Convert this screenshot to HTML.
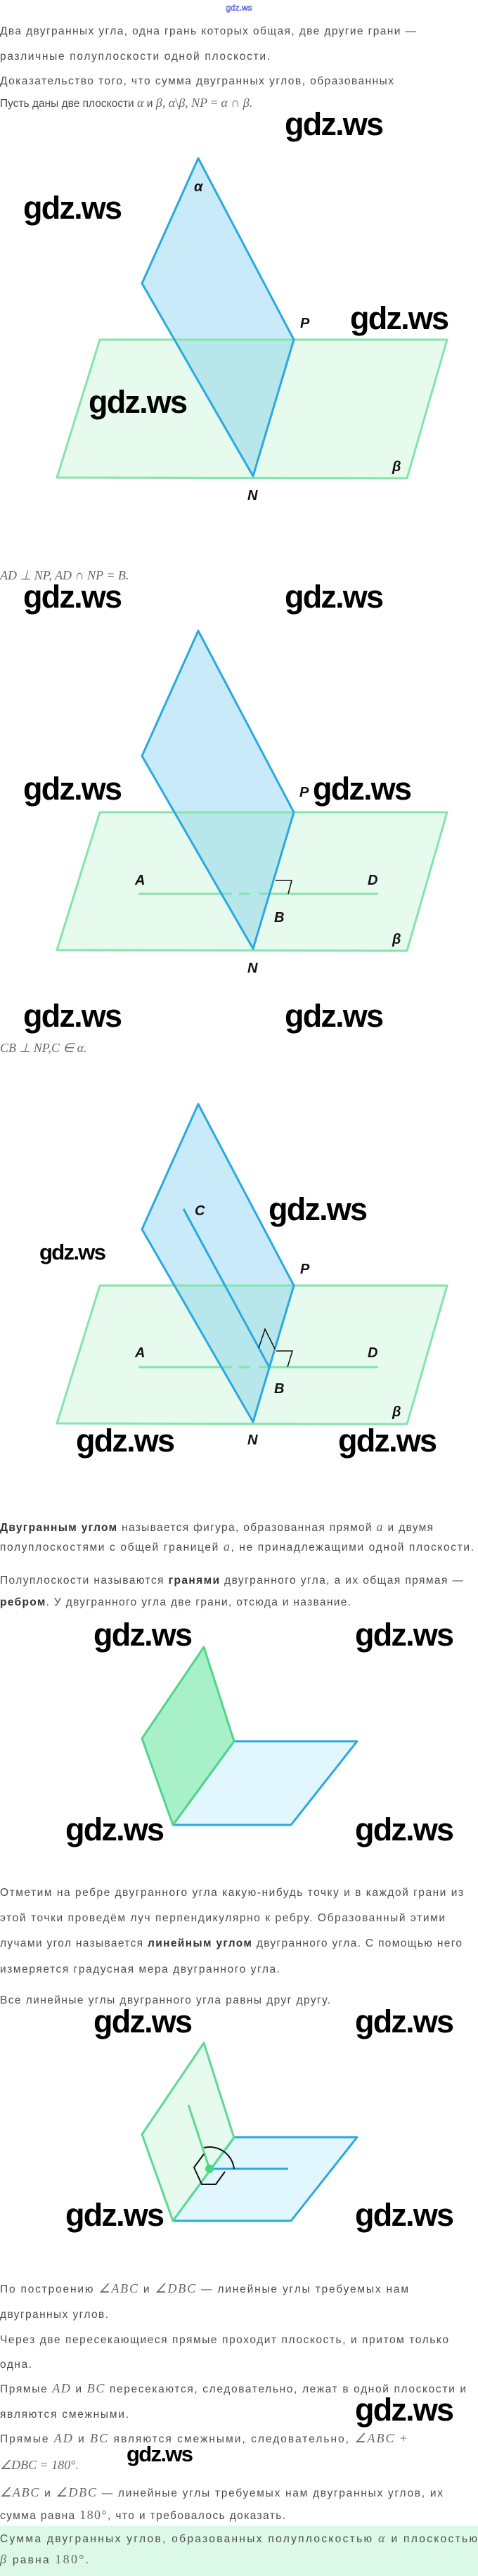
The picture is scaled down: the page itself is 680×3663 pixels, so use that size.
<!DOCTYPE html>
<html><head><meta charset="utf-8"><style>
html,body{margin:0;padding:0;background:#fff;}
svg{display:block;}
.t{font-family:"Liberation Sans",sans-serif;font-size:15.5px;fill:#4d4d4d;}
.b{font-weight:bold;fill:#333;}
.m{font-family:"Liberation Serif",serif;font-style:italic;font-size:18px;fill:#666;}
.mn{font-family:"Liberation Serif",serif;font-size:18px;fill:#666;}
.w{font-family:"Liberation Sans",sans-serif;font-size:45px;font-weight:bold;fill:#000;}
.ws{font-family:"Liberation Sans",sans-serif;font-size:31px;font-weight:bold;fill:#000;}
.l{font-family:"Liberation Sans",sans-serif;font-size:20px;font-style:italic;font-weight:bold;fill:#111;}
</style></head><body>
<svg width="680" height="3663" viewBox="0 0 680 3663" xmlns="http://www.w3.org/2000/svg">
<text x="340" y="15" text-anchor="middle" font-family="Liberation Sans, sans-serif" font-size="12" fill="#fff" stroke="#3344cc" stroke-width="0.6">gdz.ws</text>

<text class="t" x="0" y="49" textLength="592">Два двугранных угла, одна грань которых общая, две другие грани —</text>
<text class="t" x="0" y="85" textLength="384">различные полуплоскости одной плоскости.</text>
<text class="t" x="0" y="120" textLength="560">Доказательство того, что сумма двугранных углов, образованных</text>
<text class="t" x="0" y="152">Пусть даны две плоскости <tspan class="m">α</tspan> и <tspan class="m">β, α</tspan><tspan class="mn">\</tspan><tspan class="m">β, NP</tspan><tspan class="mn"> = </tspan><tspan class="m">α</tspan><tspan class="mn"> ∩ </tspan><tspan class="m">β.</tspan></text>

<g stroke-linejoin="round">
<polygon points="142,483 636,483 579,680 81,679" fill="#e7faee"/>
<polygon points="282,225 202,403 360,677 418,483" fill="rgba(41,171,226,0.25)"/>
<polygon points="142,483 636,483 579,680 81,679" fill="none" stroke="#84e4ac" stroke-width="3"/>
<polygon points="282,225 202,403 360,677 418,483" fill="none" stroke="#2aa9e0" stroke-width="3"/>
</g>
<text class="l" x="276" y="272">α</text>
<text class="l" x="427" y="466">P</text>
<text class="l" x="558" y="670">β</text>
<text class="l" x="352" y="711">N</text>
<text class="w" x="405" y="192" textLength="141">gdz.ws</text>
<text class="w" x="33" y="311" textLength="141">gdz.ws</text>
<text class="w" x="498" y="468" textLength="141">gdz.ws</text>
<text class="w" x="126" y="587" textLength="141">gdz.ws</text>

<text class="m" x="0" y="824">AD<tspan class="mn"> ⊥ </tspan>NP<tspan class="mn">, </tspan>AD<tspan class="mn"> ∩ </tspan>NP<tspan class="mn"> = </tspan>B.</text>
<g transform="translate(0,672)" stroke-linejoin="round">
<polygon points="142,483 636,483 579,680 81,679" fill="#e7faee"/>
<polygon points="282,225 202,403 360,677 418,483" fill="rgba(41,171,226,0.25)"/>
<polygon points="142,483 636,483 579,680 81,679" fill="none" stroke="#84e4ac" stroke-width="3"/>
<line x1="197" y1="599" x2="330" y2="599" stroke="#84e4ac" stroke-width="3"/>
<line x1="340" y1="599" x2="356" y2="599" stroke="#84e4ac" stroke-width="3"/>
<line x1="369" y1="599" x2="538" y2="599" stroke="#84e4ac" stroke-width="3"/>
<polygon points="282,225 202,403 360,677 418,483" fill="none" stroke="#2aa9e0" stroke-width="3"/>
<polyline points="392,580 415,580 410,599" fill="none" stroke="#111" stroke-width="1.5"/>
</g>
<text class="l" x="192" y="1258">A</text>
<text class="l" x="523" y="1258">D</text>
<text class="l" x="390" y="1311">B</text>
<text class="l" x="426" y="1133" font-size="16">P</text>
<text class="l" x="558" y="1342">β</text>
<text class="l" x="352" y="1383">N</text>
<text class="w" x="33" y="864" textLength="141">gdz.ws</text>
<text class="w" x="405" y="864" textLength="141">gdz.ws</text>
<text class="w" x="33" y="1137" textLength="141">gdz.ws</text>
<text class="w" x="445" y="1137" textLength="141">gdz.ws</text>
<text class="w" x="33" y="1460" textLength="141">gdz.ws</text>
<text class="w" x="405" y="1460" textLength="141">gdz.ws</text>

<text class="m" x="0" y="1496">CB<tspan class="mn"> ⊥ </tspan>NP<tspan class="mn">,</tspan>C<tspan class="mn"> ∈ </tspan>α.</text>
<g transform="translate(0,1345)" stroke-linejoin="round">
<polygon points="142,483 636,483 579,680 81,679" fill="#e7faee"/>
<polygon points="282,225 202,403 360,677 418,483" fill="rgba(41,171,226,0.25)"/>
<polygon points="142,483 636,483 579,680 81,679" fill="none" stroke="#84e4ac" stroke-width="3"/>
<line x1="197" y1="599" x2="330" y2="599" stroke="#84e4ac" stroke-width="3"/>
<line x1="340" y1="599" x2="356" y2="599" stroke="#84e4ac" stroke-width="3"/>
<line x1="369" y1="599" x2="538" y2="599" stroke="#84e4ac" stroke-width="3"/>
<polygon points="282,225 202,403 360,677 418,483" fill="none" stroke="#2aa9e0" stroke-width="3"/>
<line x1="261" y1="374" x2="383" y2="599" stroke="#2aa9e0" stroke-width="3"/>
</g>
<polyline points="368,1917 377,1890 391,1918" fill="none" stroke="#111" stroke-width="1.5"/>
<polyline points="393,1921 416,1921 409,1944" fill="none" stroke="#111" stroke-width="1.5"/>
<text class="l" x="277" y="1728">C</text>
<text class="l" x="427" y="1811">P</text>
<text class="l" x="192" y="1930">A</text>
<text class="l" x="523" y="1930">D</text>
<text class="l" x="390" y="1981">B</text>
<text class="l" x="558" y="2014">β</text>
<text class="l" x="352" y="2054">N</text>
<text class="w" x="382" y="1735" textLength="141">gdz.ws</text>
<text class="ws" x="56" y="1791" textLength="95">gdz.ws</text>
<text class="w" x="108" y="2064" textLength="141">gdz.ws</text>
<text class="w" x="481" y="2064" textLength="141">gdz.ws</text>

<text class="t" x="0" y="2177" textLength="616"><tspan class="b">Двугранным углом</tspan> называется фигура, образованная прямой <tspan class="m">a</tspan> и двумя</text>
<text class="t" x="0" y="2205" textLength="674">полуплоскостями с общей границей <tspan class="m">a</tspan>, не принадлежащими одной плоскости.</text>
<text class="t" x="0" y="2252" textLength="659">Полуплоскости называются <tspan class="b">гранями</tspan> двугранного угла, а их общая прямая —</text>
<text class="t" x="0" y="2283" textLength="499"><tspan class="b">ребром</tspan>. У двугранного угла две грани, отсюда и название.</text>

<g stroke-linejoin="round" stroke-width="3">
<polygon points="333,2476 508,2476 414,2595 246,2595" fill="#e1f7fd" stroke="#2aa9e0"/>
<polygon points="290,2342 202,2472 246,2595 333,2476" fill="#a8f0c8" stroke="#52d48c"/>
</g>
<text class="w" x="133" y="2340" textLength="141">gdz.ws</text>
<text class="w" x="505" y="2340" textLength="141">gdz.ws</text>
<text class="w" x="93" y="2617" textLength="141">gdz.ws</text>
<text class="w" x="505" y="2617" textLength="141">gdz.ws</text>

<text class="t" x="0" y="2696" textLength="659">Отметим на ребре двугранного угла какую-нибудь точку и в каждой грани из</text>
<text class="t" x="0" y="2732" textLength="633">этой точки проведём луч перпендикулярно к ребру. Образованный этими</text>
<text class="t" x="0" y="2768" textLength="657">лучами угол называется <tspan class="b">линейным углом</tspan> двугранного угла. С помощью него</text>
<text class="t" x="0" y="2805" textLength="398">измеряется градусная мера двугранного угла.</text>
<text class="t" x="0" y="2849" textLength="470">Все линейные углы двугранного угла равны друг другу.</text>
<text class="w" x="133" y="2890" textLength="141">gdz.ws</text>
<text class="w" x="505" y="2890" textLength="141">gdz.ws</text>

<g stroke-linejoin="round" stroke-width="3">
<polygon points="333,3039 508,3039 414,3158 246,3158" fill="#e1f7fd" stroke="#2aa9e0"/>
<polygon points="290,2905 202,3035 246,3158 333,3040" fill="rgba(200,245,215,0.45)" stroke="#5fd894"/>
</g>
<line x1="268" y1="2993" x2="298" y2="3084" stroke="#5fd894" stroke-width="3"/>
<line x1="298" y1="3084" x2="410" y2="3084" stroke="#2aa9e0" stroke-width="3"/>
<path d="M290,3054 A35,35 0 0 1 333,3084" fill="none" stroke="#111" stroke-width="2"/>
<polyline points="290,3063 276,3082 287,3106 307,3106 320,3088" fill="none" stroke="#111" stroke-width="2"/>
<circle cx="298" cy="3084" r="6" fill="#4cd582"/>
<text class="w" x="93" y="3165" textLength="141">gdz.ws</text>
<text class="w" x="505" y="3165" textLength="141">gdz.ws</text>

<text class="t" x="0" y="3260" textLength="581">По построению <tspan class="m">∠ABC</tspan> и <tspan class="m">∠DBC</tspan> — линейные углы требуемых нам</text>
<text class="t" x="0" y="3296" textLength="154">двугранных углов.</text>
<text class="t" x="0" y="3332" textLength="638">Через две пересекающиеся прямые проходит плоскость, и притом только</text>
<text class="t" x="0" y="3367" textLength="45">одна.</text>
<text class="t" x="0" y="3402" textLength="663">Прямые <tspan class="m">AD</tspan> и <tspan class="m">BC</tspan> пересекаются, следовательно, лежат в одной плоскости и</text>
<text class="t" x="0" y="3438" textLength="183">являются смежными.</text>
<text class="t" x="0" y="3473" textLength="579">Прямые <tspan class="m">AD</tspan> и <tspan class="m">BC</tspan> являются смежными, следовательно, <tspan class="m">∠ABC</tspan> <tspan class="mn">+</tspan></text>
<text class="m" x="0" y="3511">∠DBC<tspan class="mn"> = 180°.</tspan></text>
<text class="t" x="0" y="3550" textLength="630"><tspan class="m">∠ABC</tspan> и <tspan class="m">∠DBC</tspan> — линейные углы требуемых нам двугранных углов, их</text>
<text class="t" x="0" y="3582" textLength="406">сумма равна <tspan class="mn">180°</tspan>, что и требовалось доказать.</text>
<text class="w" x="505" y="3442" textLength="141">gdz.ws</text>
<text class="ws" x="180" y="3500" textLength="95">gdz.ws</text>

<rect x="0" y="3592" width="680" height="71" fill="#dbf9e6"/>
<text class="t" x="0" y="3615" textLength="679">Сумма двугранных углов, образованных полуплоскостью <tspan class="m">α</tspan> и плоскостью</text>
<text class="t" x="0" y="3645" textLength="126"><tspan class="m">β</tspan> равна <tspan class="mn">180°</tspan>.</text>
</svg>
</body></html>
